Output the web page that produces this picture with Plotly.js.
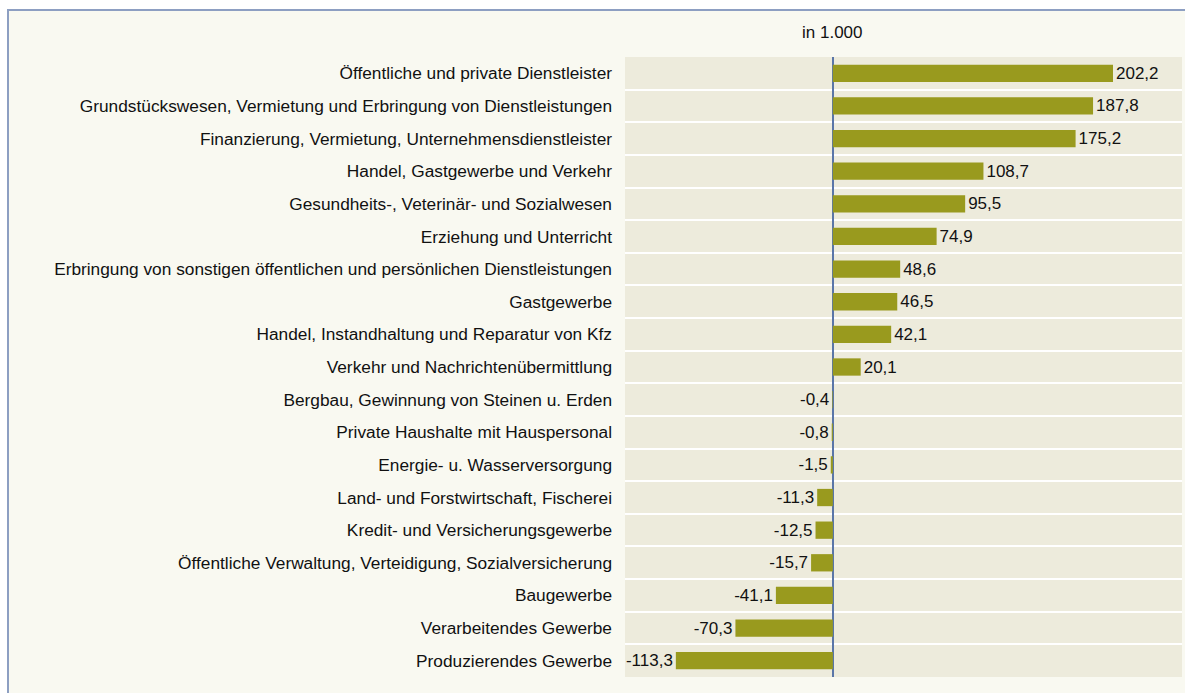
<!DOCTYPE html>
<html>
<head>
<meta charset="utf-8">
<script src="https://cdn.plot.ly/plotly-3.0.1.min.js"></script>
<style>
  html, body { margin: 0; padding: 0; background: #ffffff; overflow: hidden; }
  #frame { position: absolute; left: 7px; top: 9px; width: 1180px; height: 690px;
           border-left: 2px solid #8d9fc2; border-top: 2px solid #8d9fc2; background: #f9f9f1; }
  #chart { width: 1176px; height: 682px; }
</style>
</head>
<body>
<div id="frame"><div id="chart"></div></div>
<script>
const categories = [
  "Öffentliche und private Dienstleister",
  "Grundstückswesen, Vermietung und Erbringung von Dienstleistungen",
  "Finanzierung, Vermietung, Unternehmensdienstleister",
  "Handel, Gastgewerbe und Verkehr",
  "Gesundheits-, Veterinär- und Sozialwesen",
  "Erziehung und Unterricht",
  "Erbringung von sonstigen öffentlichen und persönlichen Dienstleistungen",
  "Gastgewerbe",
  "Handel, Instandhaltung und Reparatur von Kfz",
  "Verkehr und Nachrichtenübermittlung",
  "Bergbau, Gewinnung von Steinen u. Erden",
  "Private Haushalte mit Hauspersonal",
  "Energie- u. Wasserversorgung",
  "Land- und Forstwirtschaft, Fischerei",
  "Kredit- und Versicherungsgewerbe",
  "Öffentliche Verwaltung, Verteidigung, Sozialversicherung",
  "Baugewerbe",
  "Verarbeitendes Gewerbe",
  "Produzierendes Gewerbe"
];
const values = [202.2, 187.8, 175.2, 108.7, 95.5, 74.9, 48.6, 46.5, 42.1, 20.1,
                -0.4, -0.8, -1.5, -11.3, -12.5, -15.7, -41.1, -70.3, -113.3];
const unitLabel = "in 1.000";

const labels = values.map(v => v.toFixed(1).replace('.', ','));
const FONT = "Liberation Sans, Arial, sans-serif";

const trace = {
  type: 'bar',
  orientation: 'h',
  y: categories,
  x: values,
  text: labels,
  textposition: 'outside',
  textfont: { family: FONT, size: 17, color: '#111111' },
  constraintext: 'none',
  cliponaxis: false,
  marker: { color: '#999a1e', line: { width: 0 } },
  hoverinfo: 'none'
};

const layout = {
  width: 1176, height: 682,
  margin: { l: 616, r: 3, t: 46, b: 16 },
  paper_bgcolor: '#f9f9f1',
  plot_bgcolor: '#edebdc',
  bargap: 0.47,
  showlegend: false,
  font: { family: FONT, size: 17, color: '#111111' },
  xaxis: {
    range: [-150, 252],
    showticklabels: false, ticks: '',
    showgrid: false,
    zeroline: true, zerolinecolor: '#5a76a8', zerolinewidth: 2,
    fixedrange: true
  },
  yaxis: {
    type: 'category',
    autorange: 'reversed',
    tickson: 'boundaries',
    ticks: '',
    showgrid: true, gridcolor: '#ffffff', gridwidth: 2,
    ticklabelstandoff: 12,
    tickfont: { family: FONT, size: 17.3, color: '#111111' },
    fixedrange: true
  },
  annotations: [{
    text: unitLabel, xref: 'x', yref: 'paper', x: 0, y: 1, yanchor: 'bottom',
    yshift: 13, showarrow: false,
    font: { family: FONT, size: 17, color: '#111111' }
  }]
};

Plotly.newPlot('chart', [trace], layout, { displayModeBar: false, staticPlot: true });
</script>
</body>
</html>
